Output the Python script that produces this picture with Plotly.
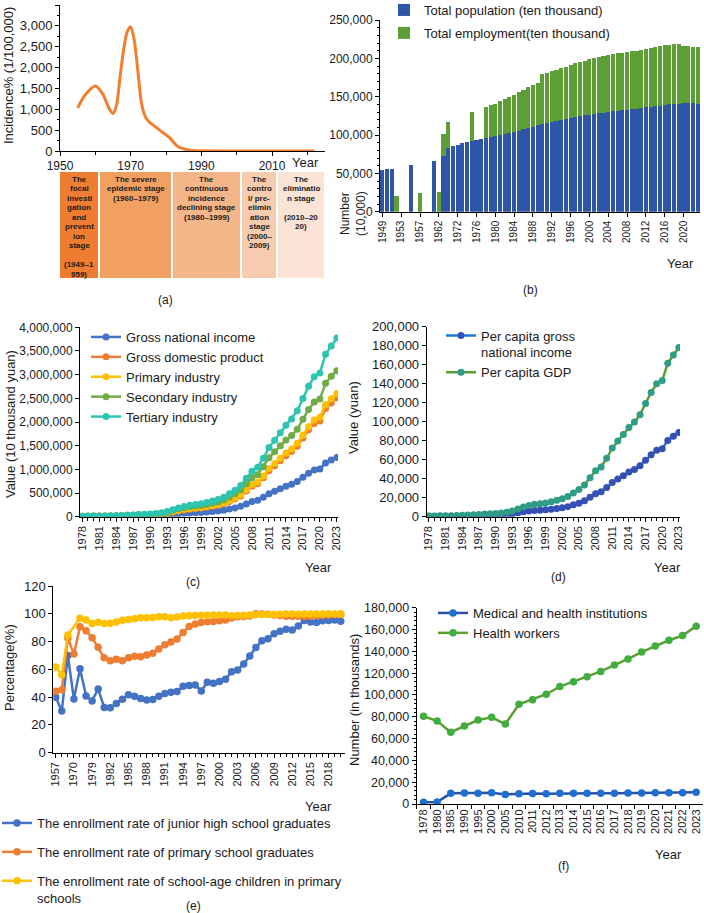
import plotly.graph_objects as go

W, H = 704, 913
def fx(p): return p / W
def fy(p): return 1 - p / H

FONT = "Liberation Sans, Arial, sans-serif"
INK = "#1a1a1a"

# ---------------- (a) incidence ----------------
years_a = [1955, 1957, 1960, 1962, 1964, 1965, 1966, 1967, 1968, 1969, 1970, 1971, 1972,
           1973, 1974, 1975, 1977, 1979, 1981, 1982, 1983, 1984, 1986, 1988, 1990, 2000, 2010, 2022]
incidence_a = [1030, 1330, 1560, 1380, 1000, 900, 1100, 1780, 2420, 2850, 2980, 2660, 1950,
               1180, 850, 720, 580, 450, 320, 220, 130, 80, 30, 10, 3, 0, 0, 0]
ticks_a = [1950, 1970, 1990, 2010]
stage_text = [
    "The<br>focal<br>investi<br>gation<br>and<br>prevent<br>ion<br>stage<br><br>(1949–1<br>959)",
    "The severe<br>epidemic stage<br>(1960–1979)",
    "The<br>continuous<br>incidence<br>declining stage<br>(1980–1999)",
    "The<br>contro<br>l/ pre-<br>elimin<br>ation<br>stage<br>(2000–<br>2009)",
    "The<br>eliminatio<br>n stage<br><br>(2010–20<br>20)",
]

# ---------------- (b) population / employment ----------------
cats_b = ["1949", "1950", "1951", "1952", "1953", "1954", "1955", "1956", "1957", "1958",
          "1959", "1960", "1962", "1965", "1970", "1971"] + [str(y) for y in range(1972, 2024)]
population_b = [54167, 55196, 56300, None, None, None, 61465, None, None, None,
                None, 66207, None, 72538, 82992, 85229,
                87177, 89211, 90859, 92420, 93717, 94974,
                96259, 97542, 98705, 100072, 101654, 103008, 104357, 105851, 107507, 109300,
                111026, 112704, 114333, 115823, 117171, 118517, 119850, 121121, 122389, 123626,
                124761, 125786, 126743, 127627, 128453, 129227, 129988, 130756, 131448, 132129,
                132802, 133450, 134091, 134916, 135922, 136726, 137646, 138326, 139232, 140011,
                140541, 141008, 141212, 141260, 141175, 140967]
employment_b = [None, None, None, 20729, None, None, None, None, 23771, None,
                None, None, 25910, 28670, 34432, None,
                None, None, None, 38168, None, None,
                40152, 41024, 42361, 43725, 45295, 46436, 48197, 49873, 51282, 52783,
                54334, 55329, 64749, 65491, 66152, 66808, 67455, 68065, 68950, 69820,
                70637, 71394, 72085, 72797, 73280, 73736, 74264, 74647, 74978, 75321,
                75564, 75828, 76105, 76420, 76704, 76977, 77253, 77451, 77603, 77640,
                77586, 77471, 75064, 74652, 73351, 74041]

# ---------------- (c) national accounts (stacked lines) ----------------
years_c = list(range(1978, 2024))
gni_c = [3678, 4100, 4587, 4933, 5426, 6079, 7346, 9180, 10474, 12294,
         15332, 17360, 19067, 22124, 27334, 35900, 48823, 61539, 72102, 80025,
         85486, 90824, 99066, 109276, 120480, 136576, 161415, 185999, 219029, 270704,
         321230, 347934, 410354, 483393, 537329, 588141, 644380, 685571, 742694, 830946,
         915244, 983751, 1008783, 1133518, 1197250, 1251297]
gdp_c = [3679, 4101, 4588, 4936, 5373, 6021, 7279, 9099, 10376, 12175,
         15180, 17180, 18873, 22006, 27195, 35673, 48638, 61340, 71814, 79715,
         85196, 90564, 100280, 110863, 121717, 137422, 161840, 187319, 219438, 270092,
         319245, 348518, 412119, 487940, 538580, 592963, 643563, 688858, 746395, 832036,
         919281, 986515, 1013567, 1149237, 1204724, 1260582]
primary_c = [1018, 1259, 1359, 1546, 1762, 1960, 2295, 2541, 2764, 3204,
             3831, 4228, 5017, 5288, 5800, 6887, 9471, 12020, 13878, 14265,
             14618, 14549, 14717, 15502, 16190, 16970, 20904, 21806, 23317, 27674,
             32464, 33584, 38430, 44781, 49085, 53028, 55626, 57775, 60139, 62100,
             64745, 70474, 78031, 83086, 88345, 89755]
secondary_c = [1755, 1925, 2205, 2269, 2397, 2690, 3137, 3867, 4493, 5252,
               6587, 7278, 7717, 9102, 11700, 16454, 22445, 28679, 33835, 37543,
               39004, 41034, 45556, 49512, 53897, 62436, 73904, 87365, 103162, 125133,
               148003, 157639, 191626, 227035, 244639, 261951, 277282, 281339, 295428, 331581,
               364835, 380671, 383562, 450904, 473790, 482589]
tertiary_c = [905, 916, 1024, 1120, 1213, 1371, 1847, 2691, 3119, 3719,
              4762, 5675, 6139, 7616, 9695, 12332, 16723, 20641, 24101, 27907,
              31574, 34980, 40007, 45849, 51631, 58016, 67033, 78147, 92959, 117285,
              138778, 157295, 182062, 216124, 244856, 277984, 310655, 349745, 390828, 438356,
              489701, 535371, 551974, 614476, 642727, 688238]

# ---------------- (d) per capita (stacked lines) ----------------
years_d = list(range(1978, 2024))
pc_gni_d = [385, 423, 468, 497, 541, 597, 711, 877, 985, 1140,
            1398, 1560, 1686, 1922, 2352, 3056, 4108, 5120, 5934, 6521,
            6893, 7267, 7846, 8598, 9418, 10604, 12473, 14267, 16707, 20541,
            24250, 26149, 30676, 35939, 39806, 43143, 46974, 49688, 53512, 59507,
            65216, 69881, 71490, 80250, 84800, 88700]
pc_gdp_d = [385, 423, 468, 497, 533, 588, 702, 866, 973, 1123,
            1378, 1536, 1663, 1912, 2334, 3027, 4081, 5091, 5898, 6481,
            6860, 7229, 7942, 8717, 9506, 10666, 12487, 14368, 16738, 20494,
            24100, 26180, 30808, 36277, 39771, 43497, 46912, 49922, 53783, 59592,
            65534, 70078, 71828, 81370, 85310, 89358]

# ---------------- (e) enrollment rates ----------------
cats_e = ["1957", "1962", "1965", "1970", "1975"] + [str(y) for y in range(1978, 2021)]
junior_e = [40.0, 30.0, 70.0, 38.6, 60.4,
            40.9, 37.3, 45.9, 32.5, 32.3, 35.5, 38.4, 41.7, 40.6, 39.1,
            38.0, 38.3, 40.6, 42.6, 43.6, 44.1, 47.8, 48.3, 48.8, 44.5,
            50.7, 50.0, 51.2, 52.9, 58.3, 59.6, 63.8, 69.7, 75.7, 80.5,
            82.1, 85.6, 87.5, 88.9, 88.4, 91.2, 95.1, 94.1, 93.7, 94.9,
            95.2, 95.5, 94.6]
primary_e = [44.2, 45.3, 82.5, 71.0, 90.6,
             87.7, 82.8, 75.9, 68.3, 66.2, 67.3, 66.2, 68.4, 69.5, 69.1,
             70.4, 71.5, 74.6, 77.7, 79.7, 81.8, 86.6, 90.8, 92.6, 93.7,
             94.3, 94.4, 94.9, 95.5, 97.0, 97.9, 98.1, 98.4, 100.0, 99.9,
             99.7, 99.1, 98.7, 98.3, 98.3, 98.3, 98.0, 98.2, 98.7, 98.8,
             99.1, 99.5, 99.5]
school_age_e = [61.7, 56.1, 84.7, None, 96.8,
                95.5, 93.0, 93.9, 93.0, 93.2, 94.0, 95.3, 95.9, 96.4, 97.2,
                97.2, 97.4, 97.8, 97.8, 97.2, 97.7, 98.4, 98.5, 98.8, 98.9,
                98.9, 99.1, 99.1, 99.1, 98.6, 98.7, 98.9, 99.2, 99.3, 99.5,
                99.5, 99.4, 99.7, 99.8, 99.9, 99.7, 99.8, 99.9, 99.9, 99.9,
                100.0, 99.9, 100.0]

# ---------------- (f) health resources (stacked lines) ----------------
cats_f = ["1978", "1980", "1985", "1990", "1995", "2000", "2005"] + [str(y) for y in range(2010, 2024)]
institutions_f = [1697, 1806, 9785, 10127, 9944, 10342, 8822, 9369, 9544, 9503,
                  9744, 9814, 9835, 9834, 9866, 9974, 10076, 10229, 10309, 10329, 10708]
workers_f = [78830, 74200, 56060, 61380, 67040, 69100, 64470, 82080, 86160, 91160,
             97900, 102340, 106940, 111730, 117490, 123000, 129280, 134750, 139850, 144110, 152370]

# ======================================================================
fig = go.Figure()

# (a)
fig.add_trace(go.Scatter(x=years_a, y=incidence_a, mode="lines", line=dict(color="#F07F2F", width=3, shape="spline", smoothing=0.8),
                         xaxis="x", yaxis="y", showlegend=False))

# (b)
idx_b = list(range(len(cats_b)))
fig.add_trace(go.Bar(x=idx_b, y=population_b, name="Total population (ten thousand)", marker=dict(color="#2F55A6", line=dict(width=0)),
                     xaxis="x2", yaxis="y2", legend="legend", legendgroup="b1"))
fig.add_trace(go.Bar(x=idx_b, y=employment_b, name="Total employment(ten thousand)", marker=dict(color="#5E9E37", line=dict(width=0)),
                     xaxis="x2", yaxis="y2", legend="legend", legendgroup="b2"))

# (c)
c_series = [("Gross national income", gni_c, "#4472C4"),
            ("Gross domestic product", gdp_c, "#ED7D31"),
            ("Primary industry", primary_c, "#FFC000"),
            ("Secondary industry", secondary_c, "#70AD47"),
            ("Tertiary industry", tertiary_c, "#2EC4B2")]
for i, (nm, vals, col) in enumerate(c_series):
    fig.add_trace(go.Scatter(x=years_c, y=vals, name=nm, mode="lines+markers", stackgroup="c", fill="none",
                             line=dict(color=col, width=2.5), marker=dict(color=col, size=7),
                             xaxis="x3", yaxis="y3", legend="legend2", legendgroup=f"c{i}"))

# (d)
fig.add_trace(go.Scatter(x=years_d, y=pc_gni_d, name="Per capita gross<br>national income", mode="lines+markers", stackgroup="d", fill="none",
                         line=dict(color="#1F78D0", width=2.5), marker=dict(color="#3550B5", size=7),
                         xaxis="x4", yaxis="y4", legend="legend3", legendgroup="d0"))
fig.add_trace(go.Scatter(x=years_d, y=pc_gdp_d, name="Per capita GDP", mode="lines+markers", stackgroup="d", fill="none",
                         line=dict(color="#5B9E32", width=2.5), marker=dict(color="#2E9C86", size=7),
                         xaxis="x4", yaxis="y4", legend="legend3", legendgroup="d1"))

# (e)
idx_e = list(range(len(cats_e)))
e_series = [("The enrollment rate of junior high school graduates", junior_e, "#4472C4"),
            ("The enrollment rate of primary school graduates", primary_e, "#ED7D31"),
            ("The enrollment rate of school-age children in primary<br>schools", school_age_e, "#FFC000")]
for i, (nm, vals, col) in enumerate(e_series):
    fig.add_trace(go.Scatter(x=idx_e, y=vals, name=nm, mode="lines+markers", connectgaps=True,
                             line=dict(color=col, width=2.5), marker=dict(color=col, size=7.5),
                             xaxis="x5", yaxis="y5", legend="legend4", legendgroup=f"e{i}"))

# (f)
fig.add_trace(go.Scatter(x=cats_f, y=institutions_f, name="Medical and health institutions", mode="lines+markers", stackgroup="f", fill="none",
                         line=dict(color="#2C4FA3", width=2.5), marker=dict(color="#1E6FD2", size=7.5),
                         xaxis="x6", yaxis="y6", legend="legend5", legendgroup="f0"))
fig.add_trace(go.Scatter(x=cats_f, y=workers_f, name="Health workers", mode="lines+markers", stackgroup="f", fill="none",
                         line=dict(color="#5E9E32", width=2.5), marker=dict(color="#3FAE3F", size=7.5),
                         xaxis="x6", yaxis="y6", legend="legend5", legendgroup="f1"))


def axis(domain, anchor, size=12, **kw):
    d = dict(domain=domain, anchor=anchor, showline=True, linecolor="black", linewidth=1,
             ticks="outside", ticklen=4, tickwidth=1, tickcolor="black", showgrid=False,
             zeroline=False, automargin=False, tickfont=dict(size=size, color=INK, family=FONT))
    d.update(kw)
    return d

minor_x = dict(ticks="outside", ticklen=3, tickcolor="black", dtick=1, showgrid=False)

layout = dict(
    width=W, height=H, margin=dict(l=0, r=0, t=0, b=0, autoexpand=False),
    paper_bgcolor="white", plot_bgcolor="white",
    font=dict(family=FONT, color=INK, size=12),
    barmode="stack", bargap=0.12,
    xaxis=axis([fx(60), fx(325)], "y", size=12, range=[1950, 2025], tickvals=ticks_a,
               minor=dict(ticks="outside", ticklen=3, tickcolor="black", dtick=10, tick0=1950)),
    yaxis=axis([fy(151), fy(5)], "x", size=13, range=[0, 3500], dtick=500, tickformat=",",
               minor=dict(ticks="outside", ticklen=2, tickcolor="black", dtick=250)),
    xaxis2=axis([fx(380), fx(700)], "y2", size=10, range=[-0.5, len(cats_b) - 0.5],
                tickvals=idx_b[::4], ticktext=cats_b[::4], tickangle=-90),
    yaxis2=axis([fy(211.7), fy(20)], "x2", size=12, range=[0, 250000], dtick=50000, tickformat=",",
                minor=dict(ticks="outside", ticklen=2, tickcolor="black", dtick=10000)),
    xaxis3=axis([fx(80), fx(338)], "y3", size=11, range=[1977.6, 2023.2], tick0=1978, dtick=3,
                tickangle=-90, minor=minor_x),
    yaxis3=axis([fy(516.7), fy(327.3)], "x3", size=12, range=[0, 4000000], dtick=500000, tickformat=","),
    xaxis4=axis([fx(426.7), fx(680)], "y4", size=11, range=[1977.6, 2023.2], tick0=1978, dtick=3,
                tickangle=-90, minor=minor_x),
    yaxis4=axis([fy(516.7), fy(326.7)], "x4", size=13, range=[0, 200000], dtick=20000, tickformat=","),
    xaxis5=axis([fx(53.3), fx(345)], "y5", size=11, range=[-0.4, len(cats_e) - 0.3],
                tickvals=idx_e[::3], ticktext=cats_e[::3], tickangle=-90,
                minor=dict(ticks="outside", ticklen=3, tickcolor="black", dtick=1, tick0=0)),
    yaxis5=axis([fy(752.7), fy(586)], "x5", size=13, range=[0, 120], dtick=20),
    xaxis6=axis([fx(416.7), fx(703)], "y6", size=11, type="category", tickson="boundaries",
                range=[-0.5, len(cats_f) - 0.5], tickangle=-90),
    yaxis6=axis([fy(804), fy(607.7)], "x6", size=12.5, range=[0, 180000], dtick=20000, tickformat=",",
                minor=dict(ticks="outside", ticklen=2, tickcolor="black", dtick=4000)),
)

leg_common = dict(bgcolor="rgba(0,0,0,0)", borderwidth=0, xanchor="left", yanchor="top",
                  font=dict(size=13, color=INK, family=FONT))
layout["legend"] = dict(leg_common, x=fx(384), y=fy(-5), tracegroupgap=3, traceorder="grouped")
layout["legend2"] = dict(leg_common, x=fx(86), y=fy(322), tracegroupgap=0, traceorder="normal")
layout["legend3"] = dict(leg_common, x=fx(441), y=fy(320.5), tracegroupgap=0, traceorder="normal", valign="top")
layout["legend4"] = dict(leg_common, x=fx(-3), y=fy(808), tracegroupgap=9, traceorder="grouped", valign="top")
layout["legend5"] = dict(leg_common, x=fx(433), y=fy(598), tracegroupgap=0, traceorder="normal")

fig.update_layout(**layout)

# ---------- table in (a)
stage_x = [(60, 98), (100, 171), (173, 240), (242, 276), (278, 324)]
stage_col = ["#EE7D32", "#F2A062", "#F4B589", "#F7CCAE", "#FBE4D5"]
shapes = []
ann = []
for (x0, x1), col, txt in zip(stage_x, stage_col, stage_text):
    shapes.append(dict(type="rect", xref="paper", yref="paper", x0=fx(x0), x1=fx(x1), y0=fy(278), y1=fy(172),
                       fillcolor=col, line=dict(width=0), layer="below"))
    for k, line in enumerate(txt.split("<br>")):
        if not line:
            continue
        ann.append(dict(xref="paper", yref="paper", x=fx((x0 + x1) / 2), y=fy(179 + 9.55 * k),
                        xanchor="center", yanchor="middle", text=f"<b>{line}</b>", showarrow=False,
                        font=dict(size=8, color=INK, family=FONT)))

def label(x, y, text, size=12, angle=0, xanchor="center"):
    ann.append(dict(xref="paper", yref="paper", x=fx(x), y=fy(y), text=text, showarrow=False,
                    textangle=angle, xanchor=xanchor, yanchor="middle",
                    font=dict(size=size, color=INK, family=FONT)))

# axis titles
label(8, 76, "Incidence% (1/100,000)", 13, -90)
label(353, 214, "Number<br>(10,000)", 12, -90)
label(10, 424, "Value (10 thousand yuan)", 13, -90)
label(354, 418, "Value (yuan)", 13, -90)
label(9, 668, "Percentage(%)", 13, -90)
label(354, 700, "Number (in thousands)", 13, -90)
# Year labels
label(305, 163, "Year", 13)
label(680, 263, "Year", 13)
label(318, 567, "Year", 13)
label(667, 567, "Year", 13)
label(318, 806, "Year", 13)
label(668, 854, "Year", 13)
# panel labels
label(165, 300, "(a)", 12)
label(530, 290, "(b)", 12)
label(193, 582, "(c)", 12)
label(558, 577, "(d)", 12)
label(193, 906, "(e)", 12)
label(563, 866, "(f)", 12)

fig.update_layout(shapes=shapes, annotations=ann)
fig.write_html("out.html")
